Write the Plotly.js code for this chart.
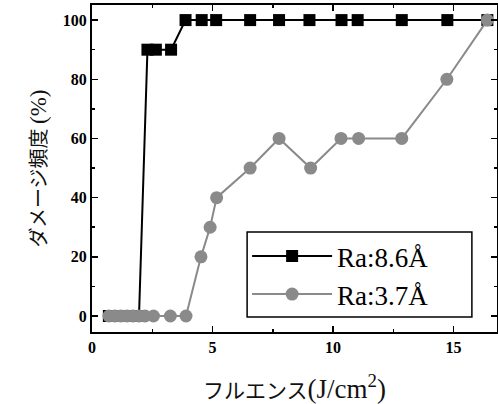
<!DOCTYPE html>
<html>
<head>
<meta charset="utf-8">
<script src="https://cdn.plot.ly/plotly-3.0.1.min.js"></script>
<style>html,body{margin:0;padding:0;background:#fff;}#chart{width:498px;height:404px;}</style>
</head>
<body>
<div id="chart"></div>
<script>
var seriesNames = ["Ra:8.6Å", "Ra:3.7Å"];
var fluenceA = [0.7, 0.95, 1.2, 1.45, 1.7, 1.95, 2.3, 2.65, 3.28, 3.88, 4.55, 5.15, 6.56, 7.76, 9.02, 10.35, 11.02, 12.85, 14.74, 16.4];
var damageA  = [0, 0, 0, 0, 0, 0, 90, 90, 90, 100, 100, 100, 100, 100, 100, 100, 100, 100, 100, 100];
var fluenceB = [0.7, 0.95, 1.2, 1.45, 1.7, 1.95, 2.2, 2.55, 3.25, 3.9, 4.52, 4.9, 5.17, 6.56, 7.76, 9.07, 10.33, 11.06, 12.85, 14.72, 16.4];
var damageB  = [0, 0, 0, 0, 0, 0, 0, 0, 0, 0, 20, 30, 40, 50, 60, 50, 60, 60, 60, 80, 100];
var xTickVals = [0, 5, 10, 15];
var yTickVals = [0, 20, 40, 60, 80, 100];

var serif = "Liberation Serif, Times New Roman, serif";
var jp = "Noto Sans CJK JP";

var traces = [
  {x: fluenceA, y: damageA, name: seriesNames[0], type: "scatter", mode: "lines+markers",
   legendgroup: "a",
   line: {color: "#000000", width: 2},
   marker: {symbol: "square", size: 12, color: "#000000"}},
  {x: fluenceB, y: damageB, name: seriesNames[1], type: "scatter", mode: "lines+markers",
   legendgroup: "b",
   line: {color: "#8a8a8a", width: 2},
   marker: {symbol: "circle", size: 13, color: "#8a8a8a"}}
];

var axisCommon = {
  showline: true, linecolor: "#000", linewidth: 2, mirror: "ticks",
  ticks: "inside", ticklen: 6, tickwidth: 1.5, tickcolor: "#000",
  showgrid: false, zeroline: false,
  tickfont: {family: serif, size: 16, color: "#000", weight: "bold"}
};

var layout = {
  width: 498, height: 404,
  margin: {l: 92, r: 1, t: 5, b: 72},
  paper_bgcolor: "#fff", plot_bgcolor: "#fff",
  showlegend: true,
  xaxis: Object.assign({}, axisCommon, {
    range: [0, 16.8], tickvals: xTickVals,
    minor: {dtick: 2.5, tick0: 0, ticks: "inside", ticklen: 3, tickcolor: "#000", tickwidth: 1.5},
    title: {text: "フルエンス<span style='font-family:Liberation Serif;font-size:27px'>(J/cm<sup>2</sup>)</span>",
            font: {family: jp, size: 21, color: "#111"}, standoff: 30}
  }),
  yaxis: Object.assign({}, axisCommon, {
    range: [-5.4, 105.1], tickvals: yTickVals,
    minor: {dtick: 10, tick0: 0, ticks: "inside", ticklen: 3, tickcolor: "#000", tickwidth: 1.5},
    title: {text: "ダメージ頻度 <span style='font-family:Liberation Serif;font-size:23px'>(%)</span>",
            font: {family: jp, size: 20, color: "#111"}, standoff: 11}
  }),
  shapes: [
    {type: "rect", xref: "paper", yref: "paper", x0: 0.383, x1: 0.938, y0: 0.046, y1: 0.306,
     fillcolor: "#fff", line: {color: "#000", width: 1.5}, layer: "above"}
  ],
  legend: {
    x: 0.383, y: 0.306, xanchor: "left", yanchor: "top",
    bgcolor: "rgba(0,0,0,0)", borderwidth: 0,
    font: {family: serif, size: 27, color: "#000"},
    itemwidth: 80, traceorder: "grouped", tracegroupgap: 0
  }
};

Plotly.newPlot("chart", traces, layout, {displayModeBar: false, staticPlot: true});
</script>
</body>
</html>
